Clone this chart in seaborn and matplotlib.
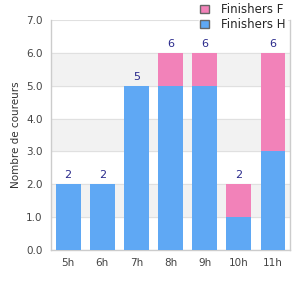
import pandas as pd
import numpy as np
import matplotlib.pyplot as plt
import seaborn as sns
from matplotlib.patches import Patch

# données
heures = ['5h', '6h', '7h', '8h', '9h', '10h', '11h']
finishers_h = [2, 2, 5, 5, 5, 1, 3]
finishers_f = [0, 0, 0, 1, 1, 1, 3]

df = pd.DataFrame({'heure': heures, 'H': finishers_h, 'F': finishers_f})
df['total'] = df['H'] + df['F']

col_h = '#5fa8f4'
col_f = '#f282b9'

sns.set_style('white')
plt.rcParams['font.family'] = ['DejaVu Sans']

fig = plt.figure(figsize=(3, 3), dpi=100)
ax = fig.add_axes([0.17, 0.167, 0.797, 0.766])

# bandes alternées
for y0 in [1, 3, 5]:
    ax.axhspan(y0, y0 + 1, color='#f2f2f2', zorder=0)
for y in range(8):
    ax.axhline(y, color='#e0e0e0', lw=0.8, zorder=0.5)

sns.barplot(data=df, x='heure', y='total', color=col_f, width=0.73,
            saturation=1, linewidth=0, ax=ax, zorder=2)
sns.barplot(data=df, x='heure', y='H', color=col_h, width=0.73,
            saturation=1, linewidth=0, ax=ax, zorder=3)

# étiquettes des totaux
for i, t in enumerate(df['total']):
    ax.text(i, t + 0.12, str(t), ha='center', va='bottom', fontsize=8,
            color='#2a2a8c', zorder=5)

ax.set_ylim(0, 7)
ax.set_xlim(-0.5, 6.5)
ax.set_yticks(np.arange(0, 8, 1))
ax.set_yticklabels([f'{v:.1f}' for v in range(8)])
ax.set_xlabel('')
ax.set_ylabel('Nombre de coureurs', fontsize=7.5, color='#333333')
ax.tick_params(axis='both', labelsize=7.5, colors='#444444', length=0, pad=6)

for s in ['left', 'bottom', 'right']:
    ax.spines[s].set_color('#cccccc')
    ax.spines[s].set_linewidth(1)
ax.spines['top'].set_visible(False)

handles = [Patch(facecolor=col_f, edgecolor='#666666', label='Finishers F'),
           Patch(facecolor=col_h, edgecolor='#666666', label='Finishers H')]
leg = fig.legend(handles=handles, loc='upper right', bbox_to_anchor=(0.96, 1.0),
                 fontsize=8.5, frameon=True, framealpha=1, edgecolor='white',
                 handlelength=0.7, handleheight=0.7, handletextpad=1.0,
                 labelspacing=0.2, borderpad=0.15, borderaxespad=0.1,
                 fancybox=False)
leg.get_frame().set_facecolor('white')
leg.set_zorder(10)

fig.savefig('out.png', dpi=100)
